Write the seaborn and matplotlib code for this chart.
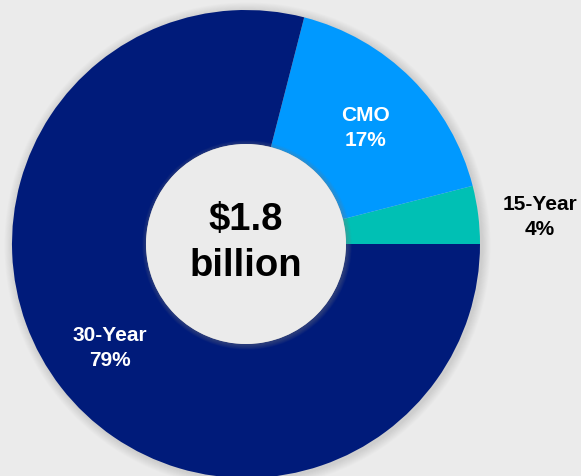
import matplotlib
matplotlib.use("Agg")
import matplotlib.pyplot as plt
from matplotlib.patches import Circle
import seaborn as sns

# Portfolio composition
categories = ["15-Year", "CMO", "30-Year"]
shares = [4, 17, 79]
colors = ["#00c0b4", "#0099ff", "#001b7a"]
label_colors = ["black", "white", "white"]
center_lines = ["$1.8", "billion"]

sns.set_theme(style="white")
plt.rcParams["font.family"] = ["Liberation Sans", "DejaVu Sans"]

BG = "#ebebeb"
W, H = 581, 476
fig = plt.figure(figsize=(W / 100, H / 100), dpi=100, facecolor=BG)
ax = fig.add_axes([0, 0, 1, 1])
ax.set_facecolor(BG)
ax.set_xlim(0, W)
ax.set_ylim(0, H)
ax.set_aspect("equal")
ax.axis("off")

cx, cy = 246, H - 244
r_out, r_in = 234, 100

# soft shadow around the ring
for k in range(10, 0, -1):
    ax.add_patch(Circle((cx + 1.5, cy - 1.5), r_out + k * 0.9,
                        color="#9a9a9a", alpha=0.035, lw=0, zorder=1))

ax.pie(shares, colors=colors, startangle=0, counterclock=True,
       radius=r_out, center=(cx, cy),
       wedgeprops=dict(width=r_out - r_in, linewidth=0, zorder=2))
ax.set_xlim(0, W)
ax.set_ylim(0, H)

# inner disc with a faint rim shadow
for k in range(8, 0, -1):
    ax.add_patch(Circle((cx + 1, cy - 1), r_in + k * 0.6,
                        color="#808080", alpha=0.05, lw=0, zorder=3))
ax.add_patch(Circle((cx, cy), r_in, color=BG, lw=0, zorder=4))

label_pos = [(540, H - 217), (365, H - 128), (110, H - 348)]
total = sum(shares)
for name, val, (x, y), c in zip(categories, shares, label_pos, label_colors):
    ax.text(x, y, f"{name}\n{round(100 * val / total)}%", ha="center", va="center",
            fontsize=15, fontweight="bold", color=c, linespacing=1.4, zorder=6)

ax.text(cx, H - 243, "\n".join(center_lines), ha="center", va="center",
        fontsize=27.5, fontweight="bold", color="black", linespacing=1.33, zorder=6)

fig.savefig("out.png", dpi=100, facecolor=BG)
